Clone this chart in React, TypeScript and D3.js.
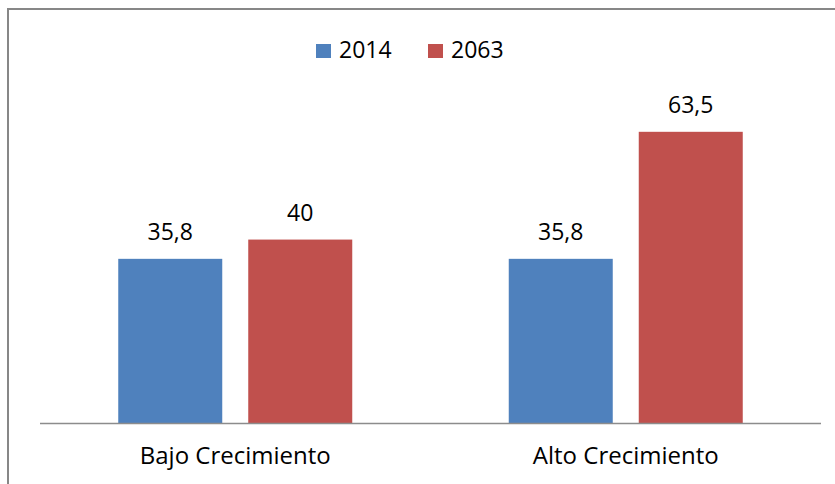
import React from "react";
import * as d3 from "d3";

const categories = ["Bajo Crecimiento", "Alto Crecimiento"];
const seriesNames = ["2014", "2063"];
const values2014 = [35.8, 35.8];
const values2063 = [40, 63.5];
const labels2014 = ["35,8", "35,8"];
const labels2063 = ["40", "63,5"];
const colors = ["#4F81BD", "#C0504D"];

const W = 835;
const H = 484;
const FONT = "'Open Sans', 'Liberation Sans', Arial, sans-serif";

export default function App() {
  const x0 = d3.scaleBand<string>().domain(categories).range([40, 821]).paddingInner(0).paddingOuter(0);
  const x1 = d3.scaleBand<string>().domain(seriesNames).range([0, 234]).paddingInner(0.2);
  const y = d3.scaleLinear().domain([0, 70]).range([423, 102]);
  const series = [
    { name: seriesNames[0], values: values2014, labels: labels2014, color: colors[0] },
    { name: seriesNames[1], values: values2063, labels: labels2063, color: colors[1] },
  ];
  const groupW = 234;
  const legendX = [316, 428];

  return (
    <svg width={W} height={H} style={{ position: "absolute", left: 0, top: 0, background: "#fff" }} fontFamily={FONT}>
      <rect x={8} y={9} width={900} height={600} fill="#fff" stroke="#878787" strokeWidth={2} />
      {categories.map((c, ci) => {
        const gx = (x0(c) as number) + x0.bandwidth() / 2 - groupW / 2;
        return (
          <g key={c} transform={`translate(${gx},0)`}>
            {series.map((s) => {
              const bx = x1(s.name) as number;
              const v = s.values[ci];
              return (
                <g key={s.name}>
                  <rect x={bx} y={y(v)} width={x1.bandwidth()} height={y(0) - y(v)} fill={s.color} />
                  <text x={bx + x1.bandwidth() / 2} y={y(v) - 19} textAnchor="middle" fontSize={23} fill="#000">
                    {s.labels[ci]}
                  </text>
                </g>
              );
            })}
          </g>
        );
      })}
      <line x1={40} x2={821} y1={423.5} y2={423.5} stroke="#8C8C8C" strokeWidth={1.5} />
      {categories.map((c) => (
        <text key={c} x={(x0(c) as number) + x0.bandwidth() / 2} y={464} textAnchor="middle" fontSize={24} fill="#000">
          {c}
        </text>
      ))}
      {series.map((s, i) => (
        <g key={s.name}>
          <rect x={legendX[i]} y={44} width={15} height={14} fill={s.color} />
          <text x={legendX[i] + 23} y={58} fontSize={23} fill="#000">
            {s.name}
          </text>
        </g>
      ))}
    </svg>
  );
}
